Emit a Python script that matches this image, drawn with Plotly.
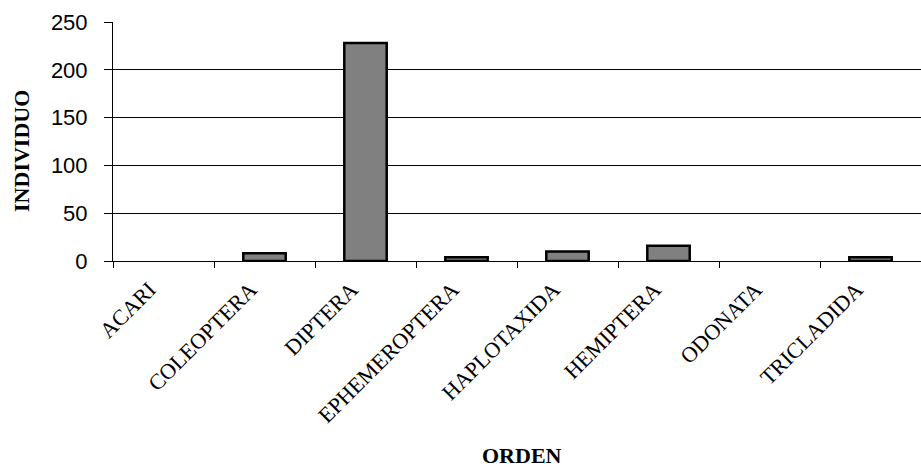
import plotly.graph_objects as go

ordenes = ["ACARI", "COLEOPTERA", "DIPTERA", "EPHEMEROPTERA",
           "HAPLOTAXIDA", "HEMIPTERA", "ODONATA", "TRICLADIDA"]
individuos = [0, 8, 228, 4, 10, 16, 0, 4]

y_ticks = [0, 50, 100, 150, 200, 250]

# no outline for empty categories, so nothing is drawn there
outline_widths = [2.5 if v > 0 else 0 for v in individuos]

fig = go.Figure(go.Bar(
    x=ordenes,
    y=individuos,
    width=0.42,
    marker=dict(color="#808080", line=dict(color="#000000", width=outline_widths)),
))

fig.update_layout(
    width=921, height=468,
    margin=dict(l=113, r=0, t=22, b=207),
    paper_bgcolor="white", plot_bgcolor="white",
    showlegend=False,
)

fig.update_xaxes(
    tickangle=-45,
    tickfont=dict(family="Liberation Serif", size=22, color="black"),
    ticklabelstandoff=6,
    ticklabelshift=-14,
    showline=True, linecolor="black", linewidth=1,
    ticks="outside", ticklen=6, tickcolor="black", tickson="boundaries",
    showgrid=False,
    automargin=False,
)
fig.update_yaxes(
    range=[0, 250],
    tickvals=y_ticks,
    tickfont=dict(family="Liberation Sans", size=22, color="black"),
    ticklabelstandoff=12,
    showline=True, linecolor="black", linewidth=1,
    ticks="outside", ticklen=8, tickcolor="black",
    showgrid=True, gridcolor="black", gridwidth=1,
    zeroline=False,
    automargin=False,
)

fig.add_annotation(
    text="<b>ORDEN</b>", xref="paper", yref="paper",
    x=0.506, y=-0.815, xanchor="center", yanchor="middle", showarrow=False,
    font=dict(family="Liberation Serif", size=22, color="black"),
)
fig.add_annotation(
    text="<b>INDIVIDUO</b>", xref="paper", yref="paper",
    x=-0.114, y=0.46, xanchor="center", yanchor="middle", showarrow=False,
    textangle=-90,
    font=dict(family="Liberation Serif", size=22, color="black"),
)

fig.write_html("out.html")
